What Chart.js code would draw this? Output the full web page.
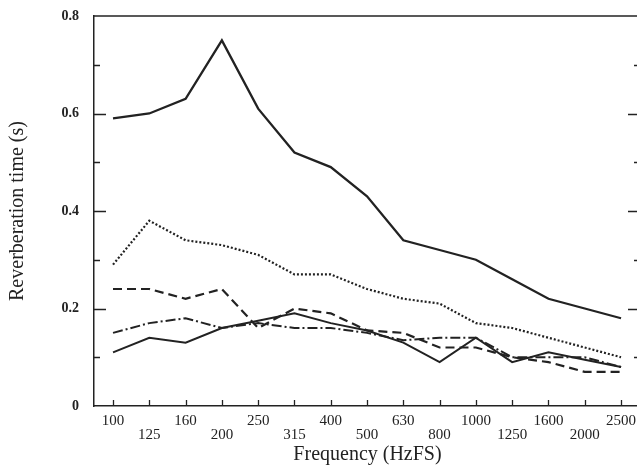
<!DOCTYPE html>
<html>
<head>
<meta charset="utf-8">
<script src="https://cdn.jsdelivr.net/npm/chart.js@4.4.1/dist/chart.umd.min.js"></script>
<style>
  html, body { margin: 0; padding: 0; background: #fff; overflow: hidden; }
  #wrap { width: 637px; height: 470px; overflow: hidden; }
</style>
</head>
<body>
<div id="wrap"><canvas id="chart" width="641" height="470"></canvas></div>
<script>
// third-octave bands
const frequencies = ["100", "125", "160", "200", "250", "315", "400", "500", "630", "800", "1000", "1250", "1600", "2000", "2500"];

const solidTop = [0.59, 0.60, 0.63, 0.75, 0.61, 0.52, 0.49, 0.43, 0.34, 0.32, 0.30, 0.26, 0.22, 0.20, 0.18];
const dotted = [0.29, 0.38, 0.34, 0.33, 0.31, 0.27, 0.27, 0.24, 0.22, 0.21, 0.17, 0.16, 0.14, 0.12, 0.10];
const dashed = [0.24, 0.24, 0.22, 0.24, 0.16, 0.20, 0.19, 0.155, 0.15, 0.12, 0.12, 0.10, 0.09, 0.07, 0.07];
const dashDot = [0.15, 0.17, 0.18, 0.16, 0.17, 0.16, 0.16, 0.15, 0.135, 0.14, 0.14, 0.10, 0.10, 0.10, 0.08];
const solidLow = [0.11, 0.14, 0.13, 0.16, 0.175, 0.19, 0.17, 0.155, 0.13, 0.09, 0.14, 0.09, 0.11, 0.095, 0.08];

const yTicks = [0, 0.2, 0.4, 0.6, 0.8];
const yMinor = [0.1, 0.3, 0.5, 0.7];

const ink = "#222";
const serif = "'Liberation Serif', 'DejaVu Serif', serif";

const toPoints = (arr) => arr.map((v, i) => ({ x: i, y: v }));

const line = (label, data, dash, width) => ({
  label: label,
  data: toPoints(data),
  borderColor: ink,
  borderWidth: width,
  borderDash: dash,
  pointRadius: 0,
  fill: false,
  tension: 0,
});

// frame top edge + inward ticks
const framePlugin = {
  id: "frame",
  afterDatasetsDraw(chart) {
    const { ctx, chartArea, scales } = chart;
    const y = scales.y;
    const x = scales.x;
    const right = chartArea.right - 1;
    ctx.save();
    ctx.strokeStyle = ink;
    ctx.lineWidth = 1.5;
    ctx.beginPath();
    ctx.moveTo(chartArea.left, chartArea.top);
    ctx.lineTo(chartArea.right, chartArea.top);
    ctx.stroke();

    ctx.lineWidth = 1.3;
    ctx.beginPath();
    yTicks.concat(yMinor).forEach((v) => {
      const len = yTicks.includes(v) ? 12 : 6;
      const py = Math.round(y.getPixelForValue(v)) + 0.5;
      if (v > 0 && v < 0.8) {
        ctx.moveTo(chartArea.left, py);
        ctx.lineTo(chartArea.left + len, py);
        ctx.moveTo(right, py);
        ctx.lineTo(right - len, py);
      }
    });
    frequencies.forEach((f, i) => {
      const px = Math.round(x.getPixelForValue(i)) + 0.5;
      ctx.moveTo(px, chartArea.bottom);
      ctx.lineTo(px, chartArea.bottom - 6);
    });
    ctx.stroke();
    ctx.restore();
  },
};

new Chart(document.getElementById("chart"), {
  type: "line",
  data: {
    datasets: [
      line("A", solidTop, [], 2.3),
      line("B", dotted, [2, 2], 2.2),
      line("C", dashed, [9, 5], 2.2),
      line("D", dashDot, [10, 3, 2, 3], 2),
      line("E", solidLow, [], 2),
    ],
  },
  options: {
    responsive: false,
    animation: false,
    layout: { padding: { top: 16, right: 0, left: 0, bottom: 0 } },
    plugins: { legend: { display: false }, tooltip: { enabled: false } },
    scales: {
      x: {
        type: "linear",
        min: -0.524,
        max: 14.55,
        afterBuildTicks: (scale) => {
          scale.ticks = frequencies.map((f, i) => ({ value: i }));
        },
        afterFit: (scale) => {
          scale.height = 64;
          scale.paddingLeft = 0;
          scale.paddingRight = 0;
        },
        grid: { display: false, drawTicks: false },
        border: { display: true, color: ink, width: 1.5 },
        ticks: {
          autoSkip: false,
          maxRotation: 0,
          padding: 8,
          color: ink,
          font: { family: serif, size: 15, lineHeight: 0.93 },
          callback: (v) => {
            const i = Math.round(v);
            return i % 2 === 0 ? [frequencies[i], ""] : ["", frequencies[i]];
          },
        },
        title: {
          display: true,
          text: "Frequency (HzFS)",
          color: ink,
          font: { family: serif, size: 20 },
          padding: { top: 0, bottom: 3 },
        },
      },
      y: {
        min: 0,
        max: 0.8,
        afterBuildTicks: (scale) => {
          scale.ticks = yTicks.map((v) => ({ value: v }));
        },
        afterFit: (scale) => {
          scale.width = 94;
          scale.paddingTop = 0;
          scale.paddingBottom = 0;
        },
        grid: { display: false, drawTicks: false },
        border: { display: true, color: ink, width: 1.5 },
        ticks: {
          padding: 15,
          color: ink,
          font: { family: serif, size: 14, weight: "bold" },
          callback: (v) => (v === 0 ? "0" : v.toFixed(1)),
        },
        title: {
          display: true,
          text: "Reverberation time (s)",
          color: ink,
          font: { family: serif, size: 20 },
          padding: { top: 6, bottom: 0 },
        },
      },
    },
  },
  plugins: [framePlugin],
});
</script>
</body>
</html>
